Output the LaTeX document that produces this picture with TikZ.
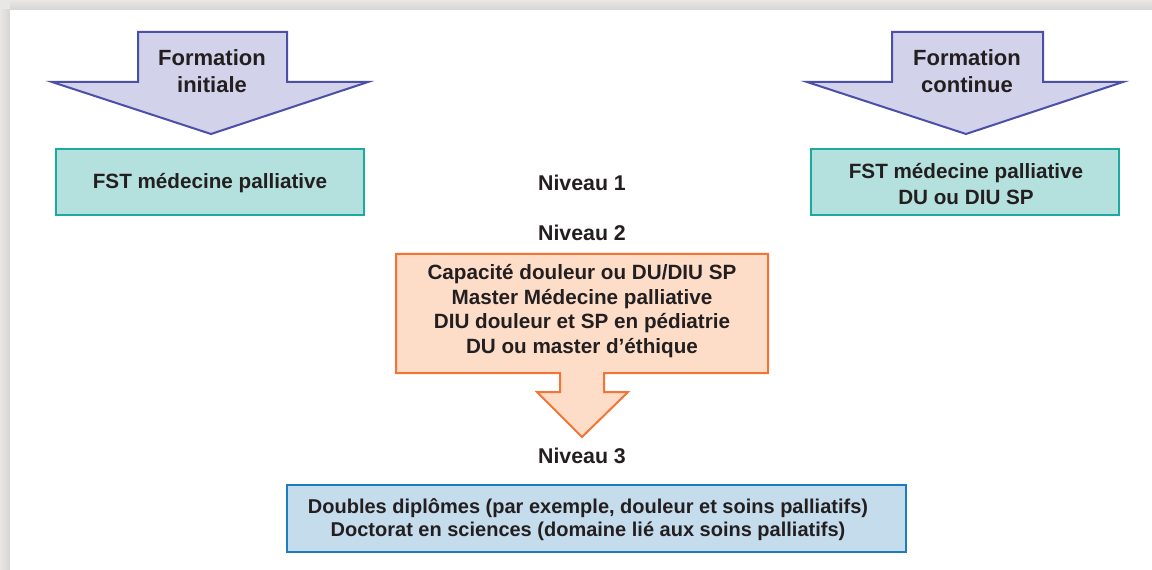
\documentclass[tikz,border=0pt]{standalone}
\usepackage{fontspec}
\setmainfont{Liberation Sans}

\definecolor{inkgray}{HTML}{231F20}
\definecolor{lavfill}{HTML}{D2D2EA}
\definecolor{lavline}{HTML}{4B4FA8}
\definecolor{tealfill}{HTML}{B4E0DE}
\definecolor{tealline}{HTML}{1BAA9E}
\definecolor{peachfill}{HTML}{FDDDC8}
\definecolor{peachline}{HTML}{F37435}
\definecolor{bluefill}{HTML}{C4DCEC}
\definecolor{blueline}{HTML}{1B7DBE}
\definecolor{pagegray}{HTML}{E8E7E5}
\definecolor{shadegray}{HTML}{D6D5D3}

\tikzset{
    txt/.style={text=inkgray,font=\bfseries\fontsize{15.5}{19.5}\selectfont,align=center,inner sep=0pt},
    bigarrow/.style={draw=lavline,fill=lavfill,line width=1.5pt,line join=miter},
    tealbox/.style={draw=tealline,fill=tealfill,line width=1.5pt},
}

\begin{document}
\begin{tikzpicture}[x=0.75pt,y=-0.75pt]
    \useasboundingbox (0,0) rectangle (1152,570);
    \fill[pagegray] (0,0) rectangle (1152,570);
    \shade[left color=pagegray,right color=shadegray] (0,10) rectangle (10,570);
    \shade[top color=pagegray,bottom color=shadegray] (10,0) rectangle (1152,10);
    \fill[white] (10,10) rectangle (1152,570);

    % block arrows on top
    \draw[bigarrow] (138,32) -- (287,32) -- (287,82) -- (368,82) -- (211,134) -- (52,82) -- (138,82) -- cycle;

    \draw[bigarrow] (892,32) -- (1043,32) -- (1043,82) -- (1123,82) -- (966,134) -- (807,82) -- (892,82) -- cycle;

    \node[txt,font=\bfseries\fontsize{16.5}{20}\selectfont] (arrInit) at (212,71) {Formation\\initiale};

    \node[txt,font=\bfseries\fontsize{16.5}{20}\selectfont] (arrCont) at (967,71) {Formation\\continue};

    % niveau 1
    \draw[tealbox] (56,149) rectangle (364,215);
    \node[txt] (boxInit) at (210,183) {FST médecine palliative};

    \draw[tealbox] (811,149) rectangle (1119,215);
    \node[txt] (boxCont) at (966,184) {FST médecine palliative\\DU ou DIU SP};

    \node[txt,font=\bfseries\fontsize{16}{19.5}\selectfont] (niv1) at (582,183) {Niveau 1};

    \node[txt,font=\bfseries\fontsize{16}{19.5}\selectfont] (niv2) at (582,233) {Niveau 2};

    % niveau 2 box with its arrow
    \draw[draw=peachline,fill=peachfill,line width=1.5pt] (396,254) -- (768,254) -- (768,373) -- (604,373) -- (604,392) -- (628,392) -- (582,437) -- (537,392) -- (560,392) -- (560,373) -- (396,373) -- cycle;
    \node[txt,font=\bfseries\fontsize{15.5}{18.6}\selectfont] (boxNiv2) at (582,311) {Capacité douleur ou DU/DIU SP\\Master Médecine palliative\\DIU douleur et SP en pédiatrie\\DU ou master d’éthique};

    \node[txt,font=\bfseries\fontsize{16}{19.5}\selectfont] (niv3) at (582,456) {Niveau 3};

    % niveau 3
    \draw[draw=blueline,fill=bluefill,line width=1.5pt] (287,485) rectangle (906,552);
    \node[txt,font=\bfseries\fontsize{15}{17.3}\selectfont] (boxNiv3) at (588,520) {Doubles diplômes (par exemple, douleur et soins palliatifs)\\Doctorat en sciences (domaine lié aux soins palliatifs)};

\end{tikzpicture}
\end{document}
